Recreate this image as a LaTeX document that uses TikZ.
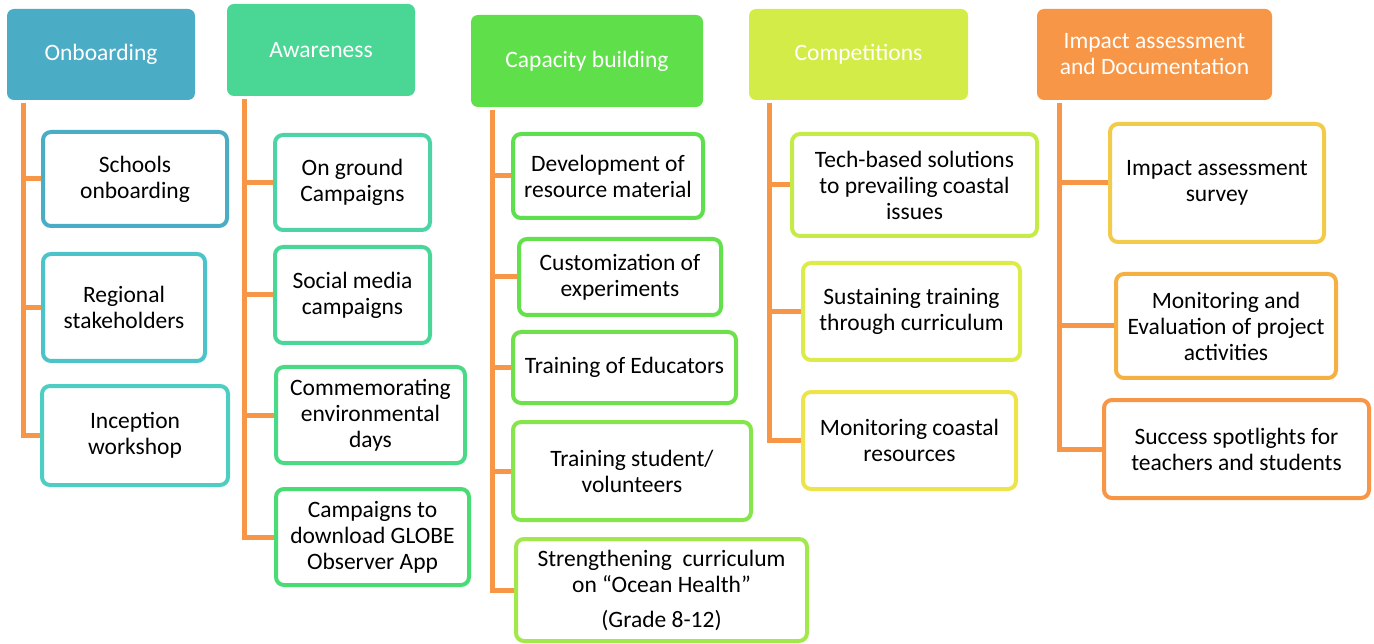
\documentclass[tikz,border=0pt]{standalone}
\usepackage{fontspec}
\setmainfont{Carlito}
\begin{document}
\begin{tikzpicture}[x=1pt,y=-1pt,
  head/.style={fill=#1, draw=none, rounded corners=7pt, text=white, align=center,
    font=\fontsize{23.5}{26}\selectfont, inner sep=0pt},
  kid/.style={draw=#1, fill=white, line width=4pt, rounded corners=8pt, align=center,
    font=\fontsize{23.5}{26}\selectfont, text=black, inner sep=0pt},
  trunk/.style={draw=orangeline, line width=5pt, line join=miter}]
\definecolor{orangeline}{HTML}{F79646}
\definecolor{hOn}{HTML}{4BACC6}
\definecolor{hAw}{HTML}{4AD694}
\definecolor{hCa}{HTML}{5FE04A}
\definecolor{hCo}{HTML}{D4EC48}
\definecolor{hIm}{HTML}{F79646}
\definecolor{kO1}{HTML}{4BACC6}
\definecolor{kO2}{HTML}{4BC3C9}
\definecolor{kO3}{HTML}{4ECEC2}
\definecolor{kA1}{HTML}{4DD3A6}
\definecolor{kA2}{HTML}{4BD699}
\definecolor{kA3}{HTML}{4AD985}
\definecolor{kA4}{HTML}{4ADB74}
\definecolor{kC1}{HTML}{5DDF4E}
\definecolor{kC2}{HTML}{63E04C}
\definecolor{kC3}{HTML}{6EE04A}
\definecolor{kC4}{HTML}{85E54A}
\definecolor{kC5}{HTML}{A3E84A}
\definecolor{kP1}{HTML}{C5EB48}
\definecolor{kP2}{HTML}{DCEB4A}
\definecolor{kP3}{HTML}{ECE44A}
\definecolor{kI1}{HTML}{F2CB4A}
\definecolor{kI2}{HTML}{F5B044}
\definecolor{kI3}{HTML}{F79646}

\useasboundingbox (0,0) rectangle (1374,644);

% column headers
\node[head=hOn, minimum width=188pt, minimum height=91pt] (h1) at (101,54.5) {Onboarding};
\node[head=hAw, minimum width=188pt, minimum height=92pt] (h2) at (321,50) {Awareness};
\node[head=hCa, minimum width=232pt, minimum height=92pt] (h3) at (587,61) {Capacity building};
\node[head=hCo, minimum width=219pt, minimum height=91pt] (h4) at (858.5,54.5) {Competitions};
\node[head=hIm, minimum width=235pt, minimum height=91pt] (h5) at (1154.5,54.5) {Impact assessment\\and Documentation};

% Onboarding
\node[kid=kO1, minimum width=184pt, minimum height=94pt] (o1) at (135,179) {Schools\\onboarding};
\node[kid=kO2, minimum width=162pt, minimum height=107pt] (o2) at (124,307.5) {Regional\\stakeholders};
\node[kid=kO3, minimum width=186pt, minimum height=99pt] (o3) at (135,435.5) {Inception\\workshop};

% Awareness
\node[kid=kA1, minimum width=155pt, minimum height=95pt] (a1) at (352.5,182.5) {On ground\\Campaigns};
\node[kid=kA2, minimum width=155pt, minimum height=96pt] (a2) at (352.5,295) {Social media\\campaigns};
\node[kid=kA3, minimum width=189pt, minimum height=96pt] (a3) at (370.5,415) {Commemorating\\environmental\\days};
\node[kid=kA4, minimum width=193pt, minimum height=96pt] (a4) at (372.5,537) {Campaigns to\\download GLOBE\\Observer App};

% Capacity building
\node[kid=kC1, minimum width=190pt, minimum height=84pt] (c1) at (608,176) {Development of\\resource material};
\node[kid=kC2, minimum width=202pt, minimum height=76pt] (c2) at (620,277) {Customization of\\experiments};
\node[kid=kC3, minimum width=223pt, minimum height=71pt] (c3) at (624.5,367.5) {Training of Educators};
\node[kid=kC4, minimum width=238pt, minimum height=98pt] (c4) at (632,471) {Training student/\\volunteers};
\node[kid=kC5, minimum width=291pt, minimum height=102pt] (c5) at (661.5,590) {Strengthening~ curriculum\\on ``Ocean Health''\\[9pt](Grade 8-12)};

% Competitions
\node[kid=kP1, minimum width=245pt, minimum height=102pt] (p1) at (914.5,185) {Tech-based solutions\\to prevailing coastal\\issues};
\node[kid=kP2, minimum width=217pt, minimum height=97pt] (p2) at (911.5,311.5) {Sustaining training\\through curriculum};
\node[kid=kP3, minimum width=213pt, minimum height=97pt] (p3) at (909.5,440.5) {Monitoring coastal\\resources};

% Impact assessment
\node[kid=kI1, minimum width=214pt, minimum height=118pt] (i1) at (1217,183) {Impact assessment\\survey};
\node[kid=kI2, minimum width=220pt, minimum height=104pt] (i2) at (1226,326) {Monitoring and\\Evaluation of project\\activities};
\node[kid=kI3, minimum width=265pt, minimum height=98pt] (i3) at (1236.5,449) {Success spotlights for\\teachers and students};

% trunk start points below each header
\coordinate (t1) at (23,103);
\coordinate (t2) at (244,99);
\coordinate (t3) at (492,110);
\coordinate (t4) at (769,103);
\coordinate (t5) at (1059,103);

% connectors
\draw[trunk] (t1) |- (o3.west);
\draw[trunk] (t1 |- o1.west) -- (o1.west);
\draw[trunk] (t1 |- o2.west) -- (o2.west);

\draw[trunk] (t2) |- (a4.west);
\draw[trunk] (t2 |- a1.west) -- (a1.west);
\draw[trunk] (t2 |- a2.west) -- (a2.west);
\draw[trunk] (t2 |- a3.west) -- (a3.west);

\draw[trunk] (t3) |- (c5.west);
\draw[trunk] (t3 |- c1.west) -- (c1.west);
\draw[trunk] (t3 |- c2.west) -- (c2.west);
\draw[trunk] (t3 |- c3.west) -- (c3.west);
\draw[trunk] (t3 |- c4.west) -- (c4.west);

\draw[trunk] (t4) |- (p3.west);
\draw[trunk] (t4 |- p1.west) -- (p1.west);
\draw[trunk] (t4 |- p2.west) -- (p2.west);

\draw[trunk] (t5) |- (i3.west);
\draw[trunk] (t5 |- i1.west) -- (i1.west);
\draw[trunk] (t5 |- i2.west) -- (i2.west);
\end{tikzpicture}
\end{document}
